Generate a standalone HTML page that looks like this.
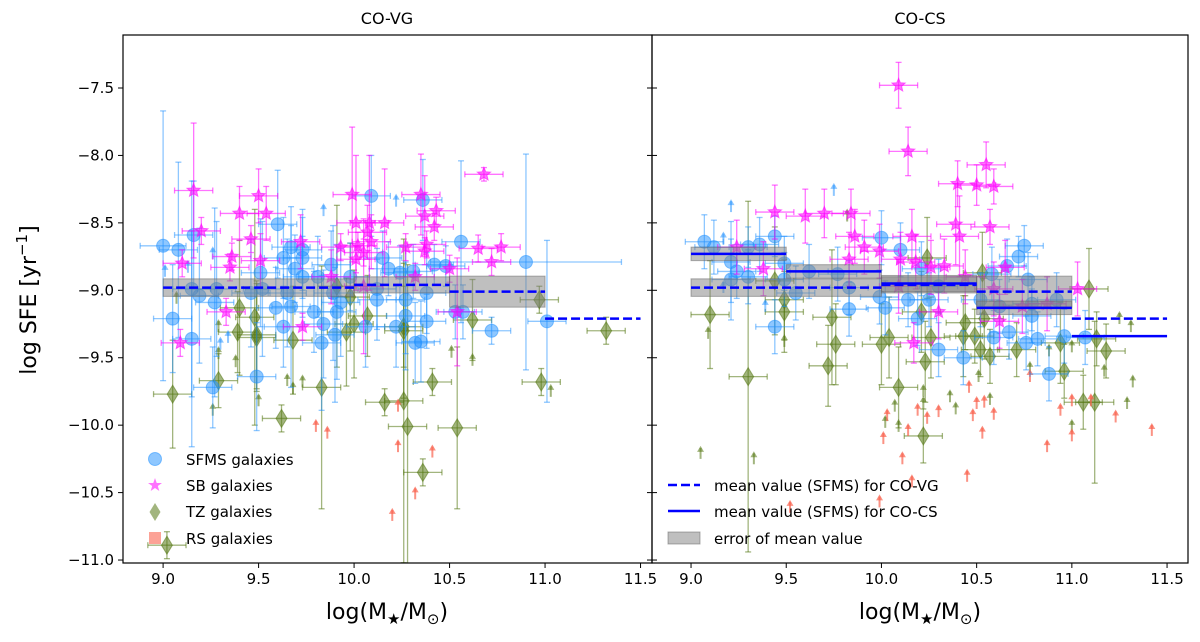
<!DOCTYPE html>
<html><head><meta charset="utf-8">
<style>
html,body{margin:0;padding:0;background:#fff;}
svg{display:block;font-family:"DejaVu Sans","Liberation Sans",sans-serif;}
</style></head>
<body>
<svg id="chart" width="1200" height="642" viewBox="0 0 1200 642" xmlns="http://www.w3.org/2000/svg">
<defs>
<clipPath id="clip-co-vg"><rect x="123" y="35" width="529" height="528"/></clipPath>
<clipPath id="clip-co-cs"><rect x="652" y="35" width="536" height="528"/></clipPath>
</defs>
<g id="marks"></g>
<!-- titles and labels -->
<text x="387" y="24" font-size="16" text-anchor="middle">CO-VG</text>
<text x="920" y="24" font-size="16" text-anchor="middle">CO-CS</text>
<text transform="translate(36,300) rotate(-90)" font-size="22" text-anchor="middle">log SFE [yr<tspan dy="-9" font-size="15">−1</tspan><tspan dy="9">]</tspan></text>
<text x="387" y="619" font-size="22" text-anchor="middle">log(M<tspan dy="5" font-size="15">★</tspan><tspan dy="-5">/M</tspan><tspan dy="5" font-size="15">⊙</tspan><tspan dy="-5">)</tspan></text>
<text x="920" y="619" font-size="22" text-anchor="middle">log(M<tspan dy="5" font-size="15">★</tspan><tspan dy="-5">/M</tspan><tspan dy="5" font-size="15">⊙</tspan><tspan dy="-5">)</tspan></text>
<!-- legend left -->
<g font-size="15">
<g><circle cx="155" cy="459" r="6.5" fill="rgba(30,144,255,0.5)" stroke="rgba(30,144,255,0.5)"/><text x="186" y="465">SFMS galaxies</text></g>
<g><polygon points="155,478 156.7,483 162,483 157.8,486 159.3,491 155,488 150.7,491 152.2,486 148,483 153.3,483" fill="rgba(255,0,255,0.55)"/><text x="186" y="491">SB galaxies</text></g>
<g><polygon points="155,503 160.5,512 155,521 149.5,512" fill="rgba(85,120,20,0.55)"/><text x="186" y="517">TZ galaxies</text></g>
<g><rect x="149" y="532" width="12" height="12" fill="rgba(250,100,80,0.6)"/><text x="186" y="544">RS galaxies</text></g>
</g>
<!-- legend right -->
<g font-size="15">
<g><line x1="668" y1="485" x2="700" y2="485" stroke="#0000ff" stroke-width="2.5" stroke-dasharray="9,4"/><text x="714" y="491">mean value (SFMS) for CO-VG</text></g>
<g><line x1="668" y1="511" x2="700" y2="511" stroke="#0000ff" stroke-width="2.5"/><text x="714" y="517">mean value (SFMS) for CO-CS</text></g>
<g><rect x="668" y="532" width="32" height="12" fill="rgba(128,128,128,0.5)" stroke="rgba(100,100,100,0.5)"/><text x="714" y="544">error of mean value</text></g>
</g>
</svg>
<script>
// ---------- DATA ----------
// Left panel (CO-VG)
const L_sfms_x=[9.00,9.08,9.16,9.60,10.09,10.36,10.56,10.90,11.01,9.67,9.73,9.51,9.88,9.98,10.18,10.24,10.31,10.42,10.48,10.15,9.63,9.73,9.69,9.73,9.81,9.15,9.19,9.27,9.28,9.46,9.52,9.65,9.89,9.93,9.91,10.12,10.12,10.27,10.27,10.38,9.59,9.67,9.79,9.05,9.63,9.84,10.06,10.22,10.38,10.53,10.57,10.72,9.15,9.49,9.26,9.83,9.90,10.32,10.35];
const L_sfms_y=[-8.67,-8.70,-8.59,-8.51,-8.30,-8.33,-8.64,-8.79,-9.23,-8.68,-8.70,-8.87,-8.81,-8.90,-8.84,-8.87,-8.86,-8.81,-8.82,-8.76,-8.76,-8.76,-8.84,-8.90,-8.90,-8.99,-9.04,-9.09,-8.99,-9.02,-8.99,-9.02,-9.02,-9.09,-9.16,-8.99,-9.07,-9.07,-9.19,-9.02,-9.13,-9.12,-9.16,-9.21,-9.27,-9.25,-9.27,-9.27,-9.23,-9.16,-9.16,-9.30,-9.36,-9.64,-9.72,-9.39,-9.33,-9.39,-9.38];
const L_sfms_ye=[1.0,0.65,0.4,0.4,0.3,0.3,0.6,0.8,0.6,0.3,0.3,0.4,0.25,0.25,0.2,0.2,0.2,0.15,0.15,0.2,0.3,0.3,0.25,0.3,0.3,0.8,0.5,0.7,0.5,0.4,0.5,0.4,0.5,0.4,0.5,0.3,0.3,0.4,0.4,0.3,0.3,0.6,0.3,0.4,0.3,0.4,0.3,0.3,0.2,0.2,0.2,0.1,0.8,0.4,0.3,0.5,0.5,0.3,0.3];
const L_sfms_xe=[0.12,0.1,0.1,0.1,0.1,0.1,0.1,0.5,0.1,0.1,0.1,0.1,0.1,0.1,0.1,0.1,0.1,0.1,0.1,0.1,0.1,0.1,0.1,0.1,0.1,0.1,0.1,0.1,0.1,0.1,0.1,0.1,0.1,0.1,0.1,0.1,0.1,0.1,0.1,0.1,0.1,0.1,0.1,0.1,0.1,0.1,0.1,0.1,0.1,0.1,0.1,0.1,0.1,0.1,0.1,0.1,0.1,0.1,0.1];
const L_sb_x=[9.16,9.20,9.10,9.50,9.54,9.40,9.46,9.36,9.35,9.51,9.72,9.99,10.01,10.08,10.16,10.07,10.09,9.93,10.02,10.05,10.01,9.88,10.05,10.27,10.38,10.37,10.35,10.37,10.43,10.42,10.32,10.50,10.68,10.65,10.77,10.72,10.54,9.33,9.73,9.09];
const L_sb_y=[-8.26,-8.56,-8.80,-8.30,-8.43,-8.43,-8.62,-8.75,-8.83,-8.78,-8.64,-8.29,-8.50,-8.50,-8.50,-8.57,-8.64,-8.68,-8.67,-8.72,-8.77,-8.90,-8.97,-8.68,-8.66,-8.71,-8.29,-8.45,-8.41,-8.53,-8.90,-8.84,-8.14,-8.69,-8.68,-8.79,-9.16,-9.16,-9.27,-9.39];
const L_sb_ye=[0.5,0.1,0.1,0.2,0.2,0.2,0.1,0.1,0.1,0.2,0.2,0.5,0.5,0.5,0.4,0.2,0.2,0.1,0.1,0.1,0.1,0.2,0.5,0.1,0.1,0.1,0.3,0.3,0.1,0.1,0.1,0.1,0.05,0.1,0.1,0.1,0.4,0.1,0.1,0.1];
const L_tz_x=[9.91,9.98,9.40,9.48,10.07,10.00,10.62,10.97,11.32,9.39,9.49,10.26,9.49,9.68,9.96,10.26,9.05,9.29,9.83,9.62,10.16,10.26,10.41,10.28,10.54,10.36,10.98,9.02];
const L_tz_y=[-8.97,-9.05,-9.13,-9.20,-9.19,-9.25,-9.22,-9.07,-9.30,-9.31,-9.33,-9.27,-9.35,-9.37,-9.31,-9.30,-9.77,-9.67,-9.72,-9.95,-9.83,-9.82,-9.68,-10.01,-10.02,-10.35,-9.68,-10.89];
const L_tz_ye=[0.6,0.4,0.5,0.8,0.3,0.4,0.3,0.1,0.1,0.3,0.4,0.3,0.4,0.4,0.4,0.5,0.4,0.2,0.9,0.1,0.1,1.2,0.1,1.2,0.6,0.1,0.1,0.1];
const L_ga_x=[9.26,9.50,9.65,9.73,9.68,9.38,9.29,10.51,10.62,11.03,9.07,9.29];
const L_ga_y=[-9.93,-9.86,-9.71,-9.72,-9.77,-9.57,-9.51,-9.50,-9.56,-9.79,-9.10,-9.31];
const L_ba_x=[9.84,10.22,9.30,9.34,9.26,9.13,9.01];
const L_ba_y=[-8.45,-8.38,-9.44,-9.39,-8.77,-8.87,-8.90];
const L_ra_x=[9.80,9.86,10.23,10.23,10.41,10.32,10.20];
const L_ra_y=[-10.05,-10.10,-9.90,-10.20,-10.24,-10.55,-10.71];
// Right panel (CO-CS)
const R_sfms_x=[9.07,9.12,9.30,9.36,9.44,9.21,9.24,9.21,9.30,9.49,9.49,9.55,9.62,9.77,9.83,9.83,9.44,10.00,9.99,10.02,10.10,10.14,10.21,10.25,10.30,10.58,10.66,10.72,10.75,10.77,10.52,10.62,10.79,10.92,10.79,10.67,10.30,10.43,10.59,10.76,10.82,10.88,10.96,11.07,10.19];
const R_sfms_y=[-8.64,-8.68,-8.68,-8.66,-8.60,-8.79,-8.86,-8.92,-8.90,-8.80,-8.92,-9.02,-8.86,-8.88,-8.98,-9.14,-9.27,-8.61,-9.05,-9.13,-8.70,-9.07,-8.84,-9.07,-8.97,-8.88,-8.82,-8.75,-8.67,-8.92,-9.07,-9.12,-9.10,-9.07,-9.19,-9.31,-9.44,-9.50,-9.35,-9.39,-9.36,-9.62,-9.34,-9.35,-9.21];
const R_sfms_ye=[0.2,0.2,0.15,0.2,0.15,0.3,0.2,0.3,0.2,0.2,0.2,0.2,0.2,0.2,0.2,0.2,0.2,0.2,0.2,0.2,0.2,0.2,0.2,0.2,0.2,0.2,0.2,0.15,0.15,0.2,0.2,0.2,0.2,0.2,0.2,0.2,0.2,0.2,0.2,0.2,0.2,0.2,0.2,0.2,0.2];
const R_sb_x=[10.09,10.14,9.44,9.60,9.70,9.84,10.40,10.50,10.55,10.59,10.57,10.39,10.41,9.24,9.38,9.86,9.91,9.83,9.99,10.10,10.16,10.18,10.26,10.33,10.44,10.65,10.59,10.74,10.87,11.03,10.09,10.30,10.62,10.17];
const R_sb_y=[-7.48,-7.97,-8.42,-8.45,-8.43,-8.43,-8.21,-8.22,-8.07,-8.23,-8.53,-8.51,-8.60,-8.68,-8.84,-8.60,-8.68,-8.77,-8.71,-8.77,-8.60,-8.79,-8.83,-8.82,-8.90,-8.83,-8.99,-9.12,-9.10,-8.99,-8.97,-9.16,-9.23,-9.39];
const R_sb_ye=[0.17,0.18,0.2,0.2,0.18,0.18,0.17,0.15,0.17,0.13,0.13,0.3,0.3,0.2,0.2,0.2,0.2,0.2,0.2,0.2,0.2,0.2,0.2,0.2,0.2,0.2,0.2,0.2,0.2,0.2,0.2,0.2,0.2,0.15];
const R_tz_x=[10.24,10.53,11.09,9.10,9.44,9.49,9.49,9.74,10.21,10.44,10.54,9.76,9.72,9.30,10.00,10.04,10.23,10.09,10.22,10.26,10.43,10.49,10.52,10.57,10.71,11.18,10.96,11.06,11.12,11.13,10.94];
const R_tz_y=[-8.76,-8.87,-8.99,-9.18,-8.93,-9.07,-9.16,-9.20,-9.16,-9.24,-9.21,-9.40,-9.56,-9.64,-9.40,-9.35,-9.53,-9.72,-10.08,-9.35,-9.34,-9.34,-9.44,-9.49,-9.44,-9.45,-9.60,-9.83,-9.83,-9.36,-9.39];
const R_tz_ye=[0.3,0.3,0.3,0.4,0.4,0.3,0.3,0.5,0.3,0.2,0.3,0.3,0.3,1.3,0.3,0.3,0.3,0.3,0.2,0.3,0.3,0.2,0.2,0.2,0.2,0.2,0.2,0.2,0.6,0.2,0.3];
const R_ga_x=[9.05,9.33,9.09,9.49,10.07,10.09,10.02,10.22,10.22,10.36,10.39,10.51,10.57,10.78,10.88,11.00,11.17,11.32,11.29,11.00,11.31,11.25,9.82];
const R_ga_y=[-10.25,-10.29,-9.36,-9.42,-9.90,-10.05,-10.02,-9.79,-9.88,-9.83,-9.92,-9.68,-9.85,-9.62,-9.49,-9.46,-9.64,-9.72,-9.88,-10.05,-9.31,-9.25,-8.49];
const R_ba_x=[9.21,9.75,9.17,9.17,9.39];
const R_ba_y=[-8.42,-8.30,-8.66,-9.02,-9.16];
const R_ra_x=[10.03,10.01,10.11,10.14,10.19,10.24,10.30,10.46,10.48,10.50,10.54,10.59,10.53,10.45,10.16,9.99,9.52,10.78,10.87,10.94,11.00,11.00,11.10,11.23,11.42];
const R_ra_y=[-9.97,-10.14,-10.29,-10.08,-9.93,-9.99,-9.94,-9.76,-9.97,-9.88,-9.87,-9.96,-10.10,-10.42,-10.46,-10.61,-10.65,-9.68,-10.20,-9.93,-10.12,-9.86,-9.86,-9.98,-10.08];
// Mean values (bins)
const binLo=[9.0,10.0,10.5,11.0];
const binHi=[10.0,10.5,11.0,11.5];
const vgMean=[-8.98,-8.96,-9.01,-9.21];
const vgErr=[0.065,0.06,0.115,0];
const csLo=[9.0,9.5,10.0,10.5,11.0];
const csHi=[9.5,10.0,10.5,11.0,11.5];
const csMean=[-8.73,-8.86,-8.95,-9.13,-9.34];
const csErr=[0.05,0.05,0.06,0.05,0];
const xTicks=[9.0,9.5,10.0,10.5,11.0,11.5];
const yTicks=[-7.5,-8.0,-8.5,-9.0,-9.5,-10.0,-10.5,-11.0];

// ---------- AXES ----------
const NS="http://www.w3.org/2000/svg";
const T=35,B=563;
const panels=[{x0:123,x1:652,xmin:8.79,xmax:11.56,name:'co-vg'},{x0:652,x1:1188,xmin:8.795,xmax:11.61,name:'co-cs'}];
const YMAX=-7.107,YMIN=-11.022;
function sy(v){return T+(YMAX-v)/(YMAX-YMIN)*(B-T);}
function sxf(p){return v=>p.x0+(v-p.xmin)/(p.xmax-p.xmin)*(p.x1-p.x0);}
const root=document.getElementById('marks');
function el(tag,attrs,parent){const e=document.createElementNS(NS,tag);for(const k in attrs)e.setAttribute(k,attrs[k]);(parent||root).appendChild(e);return e;}

const C_SF='rgba(30,144,255,0.5)',C_SB='rgba(255,0,255,0.55)',C_TZ='rgba(85,120,20,0.55)',C_RS='rgba(250,100,80,0.7)';

function errbar(g,sx,x,y,xe,ye,col){
  const px=sx(x),py=sy(y);
  const x1=sx(x-xe),x2=sx(x+xe),y1=sy(y+ye),y2=sy(y-ye);
  el('line',{x1:x1,y1:py,x2:x2,y2:py,stroke:col,'stroke-width':1.3},g);
  el('line',{x1:px,y1:y1,x2:px,y2:y2,stroke:col,'stroke-width':1.3},g);
  el('line',{x1:x1,y1:py-3,x2:x1,y2:py+3,stroke:col,'stroke-width':1.3},g);
  el('line',{x1:x2,y1:py-3,x2:x2,y2:py+3,stroke:col,'stroke-width':1.3},g);
  el('line',{x1:px-3,y1:y1,x2:px+3,y2:y1,stroke:col,'stroke-width':1.3},g);
  el('line',{x1:px-3,y1:y2,x2:px+3,y2:y2,stroke:col,'stroke-width':1.3},g);
}
function star(cx,cy,r){let s='';for(let i=0;i<10;i++){const a=-Math.PI/2+i*Math.PI/5;const rr=i%2?r*0.45:r;s+=(cx+rr*Math.cos(a)).toFixed(1)+','+(cy+rr*Math.sin(a)).toFixed(1)+' ';}return s;}
function arrow(g,px,py,col){
  el('line',{x1:px,y1:py,x2:px,y2:py-11,stroke:col,'stroke-width':2},g);
  el('polygon',{points:`${px-3.5},${py-7} ${px+3.5},${py-7} ${px},${py-13}`,fill:col},g);
}

function drawPanel(p,S,cs){
  const sx=sxf(p);
  const g=el('g',{'clip-path':`url(#clip-${p.name})`});
  
  
  const gtz=el('g',{},g);
  
  
  S.tzx.forEach((x,i)=>{errbar(gtz,sx,x,S.tzy[i],0.1,S.tzye[i],C_TZ);const px=sx(x),py=sy(S.tzy[i]);
    el('polygon',{points:`${px},${py-9} ${px+5.5},${py} ${px},${py+9} ${px-5.5},${py}`,fill:C_TZ,stroke:C_TZ},gtz);});
  S.gax.forEach((x,i)=>arrow(gtz,sx(x),sy(S.gay[i]),C_TZ));
  const grs=el('g',{},g);
  
  
  S.rax.forEach((x,i)=>arrow(grs,sx(x),sy(S.ray[i]),C_RS));
  const gsf=el('g',{},g);
  
  
  S.sfx.forEach((x,i)=>{errbar(gsf,sx,x,S.sfy[i],S.sfxe?S.sfxe[i]:0.1,S.sfye[i],C_SF);
    el('circle',{cx:sx(x),cy:sy(S.sfy[i]),r:6.5,fill:C_SF,stroke:C_SF},gsf);});
  S.bax.forEach((x,i)=>arrow(gsf,sx(x),sy(S.bay[i]),C_SF));
  const gsb=el('g',{},g);
  
  
  S.sbx.forEach((x,i)=>{errbar(gsb,sx,x,S.sby[i],0.1,S.sbye[i],C_SB);
    el('polygon',{points:star(sx(x),sy(S.sby[i]),7),fill:C_SB,stroke:C_SB},gsb);});
  const gm=el('g',{},g);
  
  
  binLo.forEach((lo,i)=>{ if(vgErr[i]>0){el('rect',{x:sx(lo),y:sy(vgMean[i]+vgErr[i]),width:sx(binHi[i])-sx(lo),height:sy(vgMean[i]-vgErr[i])-sy(vgMean[i]+vgErr[i]),fill:'rgba(128,128,128,0.5)',stroke:'rgba(100,100,100,0.5)'},gm);} });
  if(cs){csLo.forEach((lo,i)=>{ if(csErr[i]>0){el('rect',{x:sx(lo),y:sy(csMean[i]+csErr[i]),width:sx(csHi[i])-sx(lo),height:sy(csMean[i]-csErr[i])-sy(csMean[i]+csErr[i]),fill:'rgba(128,128,128,0.5)',stroke:'rgba(100,100,100,0.5)'},gm);} });}
  binLo.forEach((lo,i)=>{el('line',{x1:sx(lo),y1:sy(vgMean[i]),x2:sx(binHi[i]),y2:sy(vgMean[i]),stroke:'#0000ff','stroke-width':2.5,'stroke-dasharray':'9,4'},gm);});
  if(cs){csLo.forEach((lo,i)=>{el('line',{x1:sx(lo),y1:sy(csMean[i]),x2:sx(csHi[i]),y2:sy(csMean[i]),stroke:'#0000ff','stroke-width':2.5},gm);});}
  const fr=el('rect',{x:p.x0,y:T,width:p.x1-p.x0,height:B-T,fill:'none',stroke:'#000','stroke-width':1.2});
  
  
  xTicks.forEach(v=>{const px=sx(v);el('line',{x1:px,y1:B,x2:px,y2:B+5,stroke:'#000'});
    const t=el('text',{x:px,y:B+21,'font-size':15,'text-anchor':'middle',fill:'#000'});t.textContent=v.toFixed(1);
    
    });
  yTicks.forEach(v=>{const py=sy(v);
    if(p.name==='co-vg'){el('line',{x1:p.x0-5,y1:py,x2:p.x0,y2:py,stroke:'#000'});el('line',{x1:p.x1-5,y1:py,x2:p.x1,y2:py,stroke:'#000'});
      const t=el('text',{x:p.x0-9,y:py+5,'font-size':15,'text-anchor':'end',fill:'#000'});t.textContent=(v<0?'\u2212':'')+Math.abs(v).toFixed(1);
      
      }
    else{el('line',{x1:p.x0,y1:py,x2:p.x0+5,y2:py,stroke:'#000'});}
  });
}
drawPanel(panels[0],{sfx:L_sfms_x,sfy:L_sfms_y,sfye:L_sfms_ye,sfxe:L_sfms_xe,sbx:L_sb_x,sby:L_sb_y,sbye:L_sb_ye,tzx:L_tz_x,tzy:L_tz_y,tzye:L_tz_ye,gax:L_ga_x,gay:L_ga_y,bax:L_ba_x,bay:L_ba_y,rax:L_ra_x,ray:L_ra_y},false);
drawPanel(panels[1],{sfx:R_sfms_x,sfy:R_sfms_y,sfye:R_sfms_ye,sbx:R_sb_x,sby:R_sb_y,sbye:R_sb_ye,tzx:R_tz_x,tzy:R_tz_y,tzye:R_tz_ye,gax:R_ga_x,gay:R_ga_y,bax:R_ba_x,bay:R_ba_y,rax:R_ra_x,ray:R_ra_y},true);
</script>
</body></html>
